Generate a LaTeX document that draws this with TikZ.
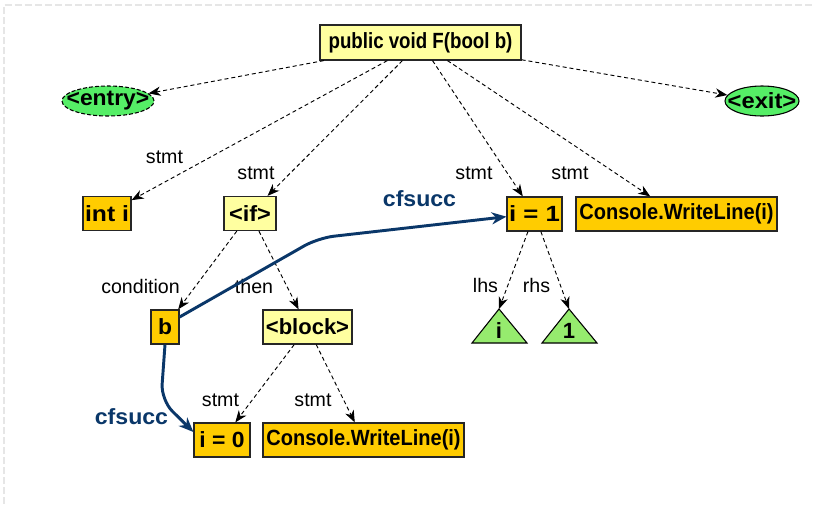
\documentclass[tikz,border=0pt]{standalone}
\usepackage{fontspec}
\setmainfont{Liberation Sans}
\usetikzlibrary{arrows.meta,shapes.geometric}
\definecolor{paleyellow}{RGB}{255,255,160}
\definecolor{amber}{RGB}{255,204,0}
\definecolor{nodegreen}{RGB}{85,238,102}
\definecolor{leafgreen}{RGB}{150,235,110}
\definecolor{flowblue}{RGB}{10,55,105}
\definecolor{framegray}{RGB}{230,230,230}
\newcommand{\sx}[2]{\scalebox{#1}[1]{#2}}
\begin{document}
\begin{tikzpicture}[x=0.75pt,y=-0.75pt,
  nodefont/.style={font=\fontsize{16.5}{19}\selectfont\bfseries},
  box/.style={nodefont,rectangle,draw=black!85,line width=0.9pt,inner sep=0pt,minimum height=25.5pt},
  decl/.style={box,fill=paleyellow},
  leafbox/.style={box,fill=amber},
  terminal/.style={nodefont,ellipse,draw=black,line width=0.8pt,fill=nodegreen,inner sep=0pt,minimum height=22.5pt},
  edgelabel/.style={font=\fontsize{14.7}{17}\selectfont},
  flowlabel/.style={font=\fontsize{16.5}{19}\selectfont\bfseries,text=flowblue},
  child/.style={draw,dash pattern=on 3pt off 2.2pt,line width=0.7pt,-{Stealth[length=9pt,width=7pt,inset=2.8pt]}},
  flow/.style={draw=flowblue,line width=2.2pt,rounded corners=12pt,-{Stealth[length=11pt,width=9pt,inset=3.5pt]}},
  leaf/.style={draw=black,line width=0.8pt,fill=leafgreen,line join=miter}
]
\useasboundingbox (0,0) rectangle (813,504);
\fill[white] (0,0) rectangle (813,504);
% faint dashed frame along the top and left
\draw[framegray,line width=1.2pt,dash pattern=on 5pt off 2.5pt] (4,504) -- (4,5) -- (813,5);

% method declaration and its terminals
\node[decl,minimum width=150.75pt,minimum height=26.25pt] (F) at (420.5,42.5) {\sx{0.85}{public void F(bool b)}};
\node[terminal,dash pattern=on 3pt off 1.5pt,minimum width=69pt] (entry) at (108,101) {\makebox[0pt]{\sx{1.04}{<entry>}}};
\node[terminal,minimum width=55.5pt] (exit) at (762,101) {\makebox[0pt]{\sx{1.08}{<exit>}}};

% statements
\node[leafbox,minimum width=36pt] (inti) at (107,213.5) {\sx{1.12}{int i}};
\node[decl,minimum width=39pt] (ifs) at (250,213.5) {\sx{1.07}{<if>}};
\node[leafbox,minimum width=41.25pt] (ione) at (534.5,214) {\sx{1.17}{i = 1}};
\node[leafbox,minimum width=150.75pt] (conA) at (676.5,214) {\sx{0.91}{Console.WriteLine(i)}};
\node[leafbox,minimum width=21pt] (b) at (165,327) {\sx{1.04}{b}};
\node[decl,minimum width=66.75pt] (block) at (307.5,327) {<block>};
\node[leafbox,minimum width=42pt] (izero) at (222,440) {\sx{1.04}{i = 0}};
\node[leafbox,minimum width=150.75pt] (conB) at (363.5,440) {\sx{0.91}{Console.WriteLine(i)}};

% operands of the assignment
\draw[leaf] (472,343) -- (499,309) -- (527,343) -- cycle;
\draw[leaf] (542,343) -- (569,309) -- (597,343) -- cycle;
\coordinate (lhsT) at (499,309);
\coordinate (rhsT) at (569,309);
\node[nodefont] (lhsV) at (499,331) {i};
\node[nodefont] (rhsV) at (569,331) {1};

% syntax edges
\draw[child] (F) -- (entry);
\draw[child] (F) -- (exit);
\draw[child] (F) -- (inti);
\draw[child] (F) -- (ifs);
\draw[child] (F) -- (ione);
\draw[child] (F) -- (conA);
\draw[child] (ifs) -- (b);
\draw[child] (ifs) -- (block);
\draw[child] (block) -- (izero);
\draw[child] (block) -- (conB);
\draw[child] (ione) -- (lhsT);
\draw[child] (ione) -- (rhsT);

% edge labels
\node[edgelabel] (l1) at (164.5,157) {stmt};
\node[edgelabel] (l2) at (256,173) {stmt};
\node[edgelabel] (l3) at (474,173) {stmt};
\node[edgelabel] (l4) at (570,173) {stmt};
\node[edgelabel] (l5) at (140.5,286) {condition};
\node[edgelabel] (l6) at (254,286) {then};
\node[edgelabel] (l7) at (485.5,285) {lhs};
\node[edgelabel] (l8) at (536.5,285) {rhs};
\node[edgelabel] (l9) at (220.5,400) {stmt};
\node[edgelabel] (l10) at (313,400) {stmt};

% control-flow successors
\coordinate (bendA) at (318,238);
\coordinate (bendB) at (161,400);
\draw[flow] ([yshift=7.5pt]b.east) -- (bendA) -- ([yshift=-2pt]ione.west);
\draw[flow] (b.south) -- (bendB) -- ([yshift=6pt]izero.west);
\node[flowlabel] (c1) at (419.5,198.5) {\sx{1.05}{cfsucc}};
\node[flowlabel] (c2) at (131.5,416.5) {\sx{1.05}{cfsucc}};
\end{tikzpicture}
\end{document}
